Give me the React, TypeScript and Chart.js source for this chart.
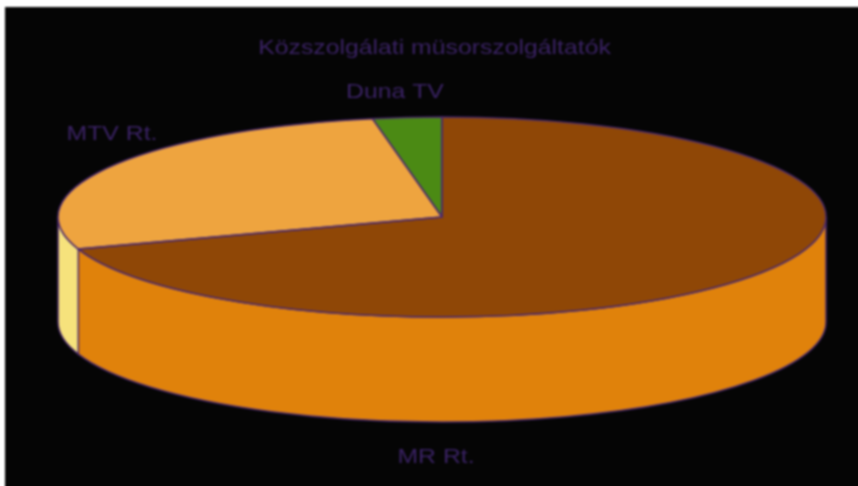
import React, { useEffect, useRef } from "react";
import { Chart, registerables } from "chart.js";

Chart.register(...registerables);

const categories = ["MR Rt.", "MTV Rt.", "Duna TV"];
const shares = [69.8, 27.3, 2.9];
const topColors = ["#8f4706", "#eea43f", "#4b8a14"];
const sideColors = ["#e0820b", "#f6e27c", "#3a6b10"];
const titleText = "Közszolgálati müsorszolgáltatók";

const TEXT = "#3a2264";
const EDGE = "#4b2a6e";
const CX = 437, CY = 210, RX = 384, RY = 100, DEPTH = 105;
const STRETCH = 1.18;
const labelSpots: Record<string, [number, number]> = {
  [titleText]: [429.5, 41],
  "MR Rt.": [431, 450],
  "MTV Rt.": [107, 127],
  "Duna TV": [390, 85],
};

const pie3d = {
  id: "pie3d",
  beforeDatasetsDraw(chart: any) {
    const ctx = chart.ctx;
    const arcs = chart.getDatasetMeta(0).data;
    ctx.save();
    arcs.forEach((arc: any, i: number) => {
      const a = Math.max(arc.startAngle, 0);
      const b = Math.min(arc.endAngle, Math.PI);
      if (b <= a) return;
      ctx.beginPath();
      ctx.ellipse(CX, CY, RX, RY, 0, a, b);
      ctx.ellipse(CX, CY + DEPTH, RX, RY, 0, b, a, true);
      ctx.closePath();
      ctx.fillStyle = sideColors[i];
      ctx.fill();
      ctx.strokeStyle = EDGE;
      ctx.lineWidth = 1.5;
      ctx.stroke();
    });
    ctx.restore();
    const { x, y, outerRadius } = arcs[0];
    ctx.save();
    ctx.translate(CX, CY);
    ctx.scale(RX / outerRadius, RY / outerRadius);
    ctx.translate(-x, -y);
  },
  afterDatasetsDraw(chart: any) {
    const ctx = chart.ctx;
    ctx.restore();
    const arcs = chart.getDatasetMeta(0).data;
    ctx.save();
    ctx.strokeStyle = EDGE;
    ctx.lineWidth = 1.5;
    ctx.lineJoin = "round";
    arcs.forEach((arc: any) => {
      ctx.beginPath();
      ctx.moveTo(CX, CY);
      ctx.ellipse(CX, CY, RX, RY, 0, arc.startAngle, arc.endAngle);
      ctx.closePath();
      ctx.stroke();
    });
    ctx.fillStyle = TEXT;
    ctx.font = '21px "Liberation Sans", Arial, sans-serif';
    ctx.textAlign = "center";
    ctx.textBaseline = "middle";
    [titleText, ...chart.data.labels].forEach((label: string) => {
      const [lx, ly] = labelSpots[label];
      ctx.save();
      ctx.translate(lx, ly);
      ctx.scale(STRETCH, 1);
      ctx.fillText(label, 0, 0);
      ctx.restore();
    });
    ctx.restore();
  },
};

export default function App() {
  const ref = useRef<HTMLCanvasElement>(null);
  useEffect(() => {
    const chart = new Chart(ref.current as HTMLCanvasElement, {
      type: "pie",
      data: {
        labels: categories,
        datasets: [
          {
            data: shares,
            backgroundColor: topColors,
            borderWidth: 0,
            clip: false,
          } as any,
        ],
      },
      options: {
        animation: false,
        responsive: false,
        plugins: {
          legend: { display: false },
          tooltip: { enabled: false },
          title: { display: false },
        },
      },
      plugins: [pie3d],
    });
    return () => chart.destroy();
  }, []);
  return (
    <canvas
      ref={ref}
      width={873}
      height={499}
      style={{
        position: "fixed",
        left: 5,
        top: 7,
        width: 873,
        height: 499,
        background: "#050505",
        filter: "blur(0.8px)",
      }}
    />
  );
}
